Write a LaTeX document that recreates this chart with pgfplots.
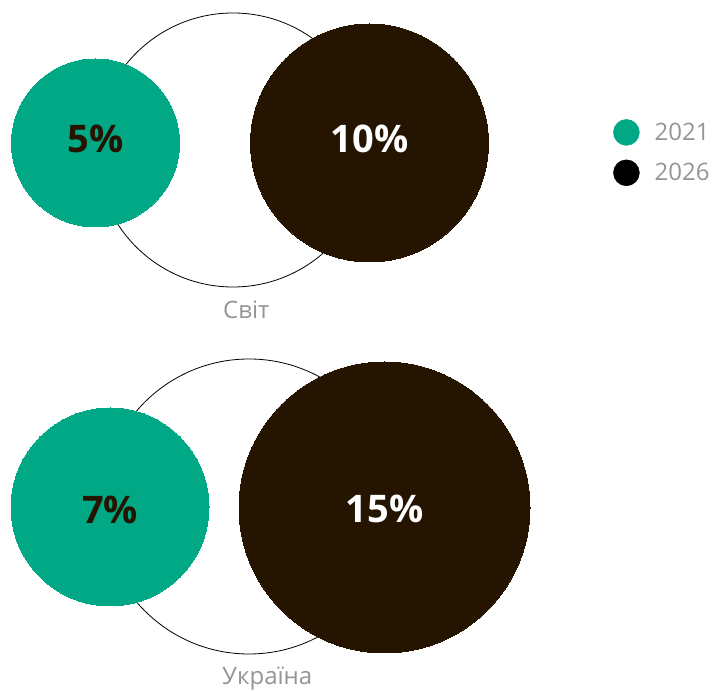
\documentclass[border=0pt]{standalone}
\usepackage{pgfplots}
\pgfplotsset{compat=1.18}
\usepackage{fontspec}
\setmainfont{Open Sans}
\definecolor{grn}{HTML}{00A885}
\definecolor{drk}{HTML}{251500}
\definecolor{lbl}{HTML}{959595}

\begin{document}
\begin{tikzpicture}
\begin{axis}[
  width=719bp, height=690bp, scale only axis,
  xmin=0, xmax=719, ymin=0, ymax=690,
  hide axis, clip=false,
  /pgf/number format/assume math mode=true,
  legend style={at={(axis cs:613,571)}, anchor=north west, draw=none, fill=none,
    font=\fontsize{24bp}{28bp}\selectfont\color{lbl},
    row sep=14bp, column sep=11bp, inner sep=0pt,
    nodes={inner xsep=4bp, inner ysep=2bp}},
  legend cell align=left,
  legend image code/.code={\fill[#1] (13bp,0) circle (13bp);},
  pct/.style={point meta=explicit,
    nodes near coords={\pgfmathprintnumber{\pgfplotspointmeta}\%},
    every node near coord/.append style={anchor=center, yshift=#1,
      font=\fontsize{38bp}{40bp}\selectfont\bfseries}},
]
% outline circles (group totals)
\addplot[only marks, mark=*, mark size=137bp, mark options={draw=black, fill=white, line width=0.8bp}, forget plot]
  coordinates {(233,540)};
\addplot[only marks, mark=*, mark size=147.5bp, mark options={draw=black, fill=white, line width=0.8bp}, forget plot]
  coordinates {(249,183.5)};
% 2021
\addplot[only marks, color=grn, mark=*, mark size=84bp, mark options={draw=grn, fill=grn, line width=0pt}, pct=4.5bp,
  every node near coord/.append style={text=drk}, forget plot]
  coordinates {(95.5,547) [5]};
\addplot[only marks, color=grn, mark=*, mark size=99bp, mark options={draw=grn, fill=grn, line width=0pt}, pct=-3bp,
  every node near coord/.append style={text=drk}, forget plot]
  coordinates {(110,183) [7]};
% 2026
\addplot[only marks, color=drk, mark=*, mark size=119bp, mark options={draw=drk, fill=drk, line width=0pt}, pct=4.5bp,
  every node near coord/.append style={text=white}, forget plot]
  coordinates {(369.5,547) [10]};
\addplot[only marks, color=drk, mark=*, mark size=145.5bp, mark options={draw=drk, fill=drk, line width=0pt}, pct=-1.5bp,
  every node near coord/.append style={text=white}, forget plot]
  coordinates {(384.5,182.5) [15]};

\addlegendimage{grn}
\addlegendentry{2021}
\addlegendimage{black}
\addlegendentry{2026}

\node[anchor=west, inner sep=0pt, text=lbl, font=\fontsize{24bp}{28bp}\selectfont] at (axis cs:223,380) {Світ};
\node[anchor=west, inner sep=0pt, text=lbl, font=\fontsize{24bp}{28bp}\selectfont] at (axis cs:222,11) {Україна};
\end{axis}
\path (current axis.south west) (current axis.north east);
\end{tikzpicture}
\end{document}
